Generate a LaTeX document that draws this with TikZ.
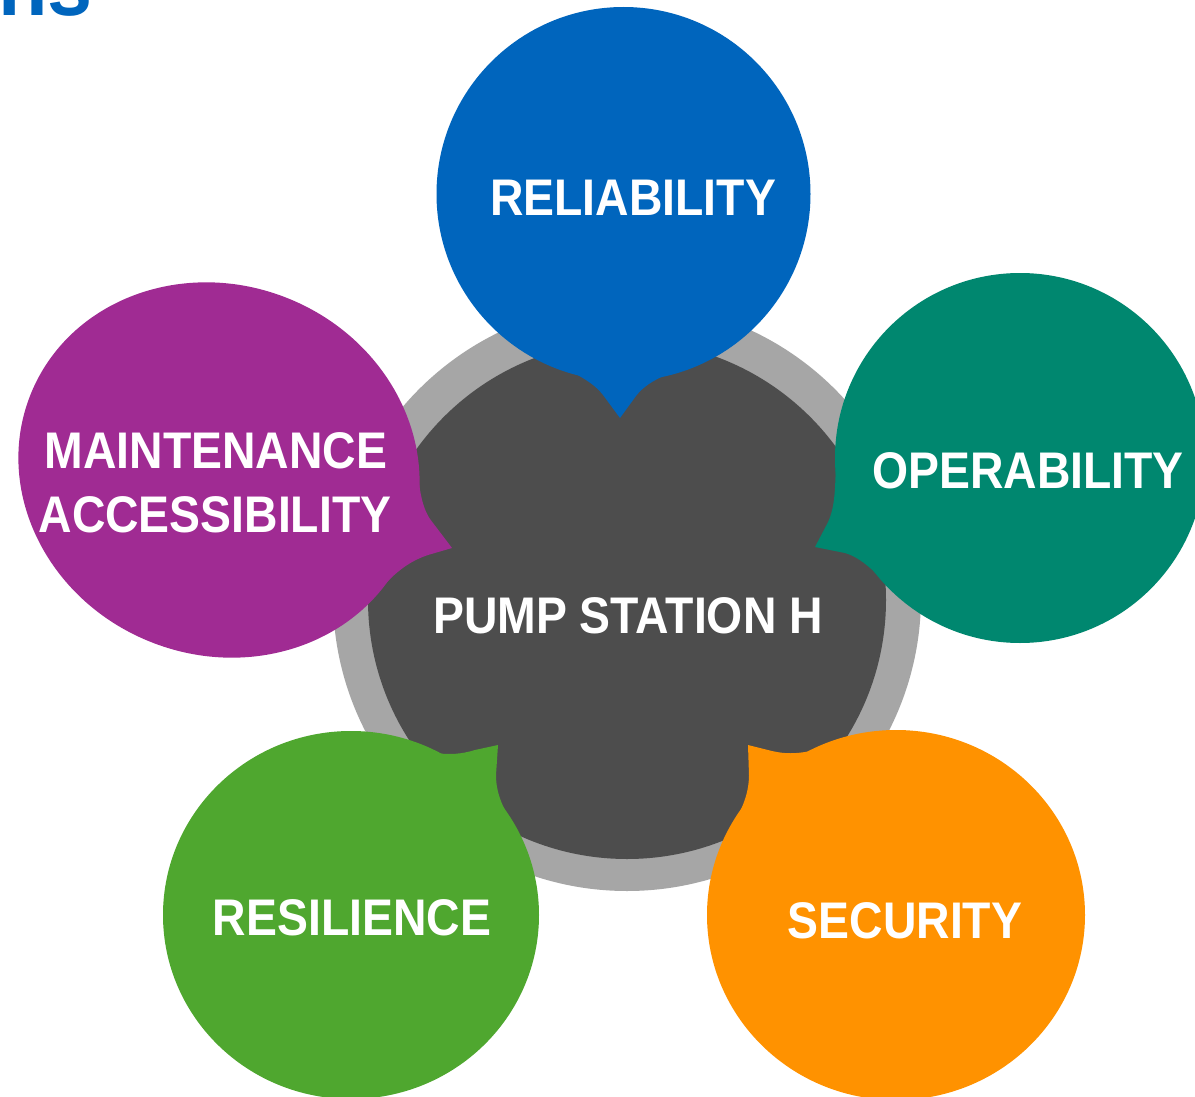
\documentclass[tikz,border=0pt]{standalone}
\usepackage{fontspec}
\newfontfamily\lblfont[FakeStretch=0.9]{Liberation Sans}
\definecolor{cblue}{HTML}{0065BD}
\definecolor{cpurple}{HTML}{A02B93}
\definecolor{cteal}{HTML}{00876F}
\definecolor{cgreen}{HTML}{4FA72F}
\definecolor{corange}{HTML}{FF9200}
\definecolor{coregray}{HTML}{4D4D4D}
\definecolor{ringgray}{HTML}{A6A6A6}
\begin{document}
\begin{tikzpicture}[x=1pt,y=-1pt,
  lbl/.style={text=white, font=\lblfont\bfseries\fontsize{51.5}{60}\selectfont, inner sep=0pt, anchor=base}]
\useasboundingbox (0,0) rectangle (1195,1097);
\clip (0,0) rectangle (1195,1097);
\fill[white] (0,0) rectangle (1195,1097);

% partial title (cut off at the top edge, as in the reference)
\node[text=cblue, font=\lblfont\bfseries\fontsize{90}{100}\selectfont, inner sep=0pt, anchor=base east] (title) at (93,16) {ns};

% central rings
\fill[ringgray] (627,597) circle[radius=294];
\fill[coregray] (627,600) circle[radius=259];

% blue bubble
\fill[cblue] (623.5,194) circle[radius=187];
\fill[cblue] (576,374) .. controls (588,381) and (596,386) .. (603,395) -- (620,418) -- (636,396) .. controls (643,387) and (652,381) .. (666,375) -- (623.5,300) -- cycle;

% purple bubble
\fill[cpurple, rotate around={-22:(219,470)}] (219,470) ellipse[x radius=203, y radius=185];
\fill[cpurple] (416,462) .. controls (420,490) and (421,505) .. (430,519) -- (452,548) -- (428,555) .. controls (410,561) and (395,572) .. (381,589) -- (300,480) -- cycle;

% teal bubble
\fill[cteal] (1020,458) circle[radius=185];
\fill[cteal] (836,462) .. controls (835,492) and (835,510) .. (826,526) -- (815,547) -- (845,553) .. controls (862,558) and (876,573) .. (890,588) -- (1000,470) -- cycle;

% green bubble
\fill[cgreen] (351,915) ellipse[x radius=188, y radius=184];
\fill[cgreen] (436,753) .. controls (450,755) and (462,754) .. (475,750) -- (498,745) -- (496,775) .. controls (496,795) and (504,810) .. (515,827) -- (400,850) -- cycle;

% orange bubble
\fill[corange] (896,915) ellipse[x radius=189, y radius=185];
\fill[corange] (811,751) .. controls (795,754) and (785,754) .. (772,751) -- (748,745) -- (749,775) .. controls (749,795) and (741,812) .. (729,831) -- (850,850) -- cycle;

% labels
\node[lbl] (rel) at (633,215) {RELIABILITY};
\node[lbl] (maint) at (216,468) {MAINTENANCE};
\node[lbl] (access) at (215,532) {ACCESSIBILITY};
\node[lbl] (oper) at (1028,488) {OPERABILITY};
\node[lbl] (pump) at (628,633) {PUMP STATION H};
\node[lbl] (resil) at (352,935) {RESILIENCE};
\node[lbl] (secur) at (905,938) {SECURITY};
\end{tikzpicture}
\end{document}
